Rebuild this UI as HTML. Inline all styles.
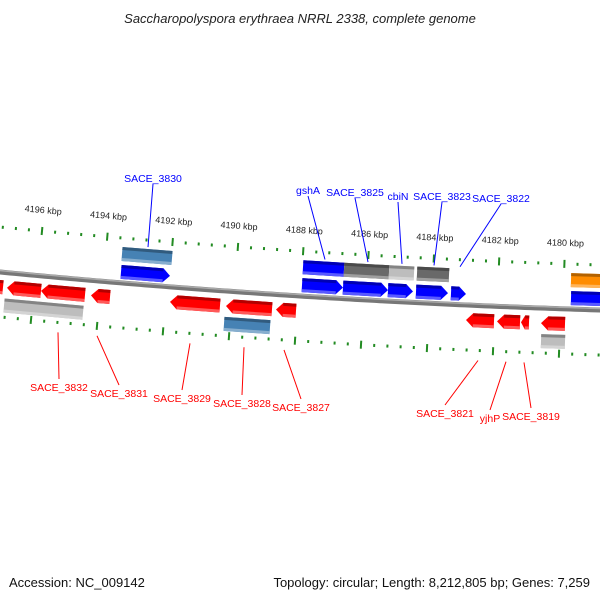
<!DOCTYPE html>
<html><head><meta charset="utf-8">
<style>
body{margin:0;background:#fff;}
svg{display:block;font-family:"Liberation Sans",sans-serif;}
</style></head>
<body>
<svg id="map" width="600" height="600" viewBox="0 0 600 600" xmlns="http://www.w3.org/2000/svg">
<rect width="600" height="600" fill="#fff"/>
<text x="300" y="23" text-anchor="middle" font-size="13" font-style="italic" fill="#222">Saccharopolyspora erythraea NRRL 2338, complete genome</text>
<text x="9" y="587" font-size="13" fill="#111">Accession: NC_009142</text>
<text x="590" y="587" text-anchor="end" font-size="13" fill="#111">Topology: circular; Length: 8,212,805 bp; Genes: 7,259</text>
<g id="g"></g>
</svg>
<script>
// kbp tick labels and their x positions on screen scale
const kbpLabels = [4196,4194,4192,4190,4188,4186,4184,4182,4180];
// features: [xStart, xEnd, row, color, direction]
const featStart = [121,302,343,388,416,451,571, 122,303,344,389,417,571, -5,7,41,91,170,226,276,466,497,521,541, 4,224,541];
const featEnd   = [170,343,388,413,448,466,605, 172,344,389,414,449,605, 3,41,85,110,220,272,296,494,520,529,565, 83,270,565];
const featRow   = ['t1','t1','t1','t1','t1','t1','t1', 't2','t2','t2','t2','t2','t2', 'b1','b1','b1','b1','b1','b1','b1','b1','b1','b1','b1', 'b2','b2','b2'];
const featColor = ['#0000ff','#0000ff','#0000ff','#0000ff','#0000ff','#0000ff','#0000ff', '#4682b4','#0000ff','#696969','#bdbdbd','#696969','#ff8c00', '#ff0000','#ff0000','#ff0000','#ff0000','#ff0000','#ff0000','#ff0000','#ff0000','#ff0000','#ff0000','#ff0000', '#bdbdbd','#4682b4','#bdbdbd'];
const featArrow = [1,1,1,1,1,1,0, 0,0,0,0,0,0, -1,-1,-1,-1,-1,-1,-1,-1,-1,-1,-1, 0,0,0];
const topLabels = ['SACE_3830','gshA','SACE_3825','cbiN','SACE_3823','SACE_3822'];
const topLabelX = [153,308,355,398,442,501];
const topLabelY = [178,190,192,196,196,198];
const topTargetX = [148,325,368,402,434,460];
const botLabels = ['SACE_3832','SACE_3831','SACE_3829','SACE_3828','SACE_3827','SACE_3821','yjhP','SACE_3819'];
const botLabelX = [59,119,182,242,301,445,490,531];
const botLabelY = [387,393,398,403,407,413,418,416];
const botTargetX = [58,97,190,244,284,478,506,524];

const NS="http://www.w3.org/2000/svg";
const g=document.getElementById('g');
function mk(tag,attrs,parent){const e=document.createElementNS(NS,tag);for(const k in attrs)e.setAttribute(k,attrs[k]);(parent||g).appendChild(e);return e;}
function cy(x){const t=x/600;return 272*(1-t)*(1-t)+2*301*t*(1-t)+310*t*t;}
function ang(x){const t=x/600;const d=2*(301-272)*(1-t)+2*(310-301)*t;return Math.atan2(d,600)*180/Math.PI;}
const rowOff={t1:-11,t2:-29,b1:15,b2:33};

// backbone
let d='';for(let x=-5;x<=605;x+=5){d+=(x==-5?'M':'L')+x+' '+cy(x).toFixed(2);}
const bb1=mk('path',{d:d,stroke:'#777',fill:'none','stroke-width':5});


const bb2=mk('path',{d:d,stroke:'#aaa',fill:'none','stroke-width':1.5,transform:'translate(0,-1.5)'});



// ticks
function tickRow(x0,step,off,name){
  for(let k=-10;k<60;k++){
    const x=x0+step*k/5; if(x<0||x>600)continue;
    const major=(k%5===0);
    const y=cy(x)+off;
    const tk=mk('rect',{x:-1,y:major?-4:-1.5,width:2,height:major?8:3,fill:'#228b22',transform:`translate(${x.toFixed(1)},${y.toFixed(1)}) rotate(${ang(x).toFixed(2)})`});
    
    
  }
}
tickRow(42,65.3,-45,'top-scale');
tickRow(31,66,45,'bottom-scale');
kbpLabels.forEach((v,i)=>{
  const x=43+65.3*i; const y=cy(x)-63;
  const t=mk('text',{x:0,y:0,'font-size':9,fill:'#222','text-anchor':'middle',transform:`translate(${x.toFixed(1)},${y.toFixed(1)}) rotate(${ang(x).toFixed(2)})`});
  t.textContent=v+' kbp';
  
  
});

// features
function shade(c,f){const n=parseInt(c.slice(1),16);let r=n>>16,gg=(n>>8)&255,b=n&255;
  const m=v=>Math.max(0,Math.min(255,Math.round(f<1?v*f:v+(255-v)*(f-1))));return `rgb(${m(r)},${m(gg)},${m(b)})`;}
featStart.forEach((s,i)=>{
  const e=featEnd[i], xc=(s+e)/2, L=(e-s)/Math.cos(ang(xc)*Math.PI/180), h=14, hw=L/2;
  const y=cy(xc)+rowOff[featRow[i]];
  const grp=mk('g',{transform:`translate(${xc.toFixed(1)},${y.toFixed(1)}) rotate(${ang(xc).toFixed(2)})`});
  
  
  const a=featArrow[i], tip=Math.min(7,L/2);
  let pts;
  if(a===1) pts=`${-hw},${-h/2} ${hw-tip},${-h/2} ${hw},0 ${hw-tip},${h/2} ${-hw},${h/2}`;
  else if(a===-1) pts=`${hw},${-h/2} ${-hw+tip},${-h/2} ${-hw},0 ${-hw+tip},${h/2} ${hw},${h/2}`;
  else pts=`${-hw},${-h/2} ${hw},${-h/2} ${hw},${h/2} ${-hw},${h/2}`;
  const c=featColor[i];
  const p=mk('polygon',{points:pts,fill:c},grp);
  
  
  const top=mk('rect',{x:-hw+(a===-1?tip:0),y:-h/2,width:Math.max(0,L-tip*(a?1:0)),height:3,fill:shade(c,0.7)},grp);
  
  
  const bot=mk('rect',{x:-hw+(a===-1?tip:0),y:h/2-3,width:Math.max(0,L-tip*(a?1:0)),height:3,fill:shade(c,1.35)},grp);
  
  
});

// labels
topLabels.forEach((n,i)=>{
  const tx=topTargetX[i];
  const ln=mk('line',{x1:topLabelX[i],y1:topLabelY[i]+6,x2:tx,y2:cy(tx)-38,stroke:'#0000ff','stroke-width':1});
  
  
  const t=mk('text',{x:topLabelX[i],y:topLabelY[i]+4,'font-size':10.5,fill:'#0000ff','text-anchor':'middle'});
  t.textContent=n;
  
  
});
botLabels.forEach((n,i)=>{
  const tx=botTargetX[i];
  const ln=mk('line',{x1:tx,y1:cy(tx)+55,x2:botLabelX[i],y2:botLabelY[i]-8,stroke:'#ff0000','stroke-width':1});
  
  
  const t=mk('text',{x:botLabelX[i],y:botLabelY[i]+4,'font-size':10.5,fill:'#ff0000','text-anchor':'middle'});
  t.textContent=n;
  
  
});
</script>
</body></html>
